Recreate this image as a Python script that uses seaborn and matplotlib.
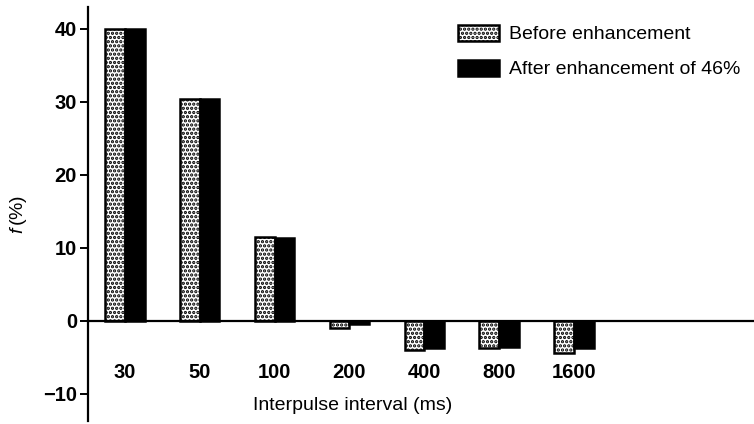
import matplotlib
matplotlib.use("Agg")
import matplotlib.pyplot as plt
from matplotlib.patches import Patch
import seaborn as sns
import pandas as pd

intervals = ["30", "50", "100", "200", "400", "800", "1600"]
before = [40.0, 30.4, 11.5, -1.0, -4.0, -3.7, -4.4]
after = [40.0, 30.4, 11.3, -0.4, -3.7, -3.5, -3.7]
series_names = ["Before enhancement", "After enhancement of 46%"]
y_ticks = [-10, 0, 10, 20, 30, 40]

df = pd.DataFrame({
    "interval": intervals * 2,
    "condition": [series_names[0]] * len(intervals) + [series_names[1]] * len(intervals),
    "value": before + after,
})

sns.set_style("ticks")
plt.rcParams["font.family"] = ["Liberation Sans", "DejaVu Sans"]
plt.rcParams["mathtext.fontset"] = "custom"
plt.rcParams["mathtext.it"] = "Liberation Sans:italic"
plt.rcParams["hatch.linewidth"] = 1.6
for key in ["text.color", "axes.labelcolor", "xtick.color", "ytick.color", "axes.edgecolor"]:
    plt.rcParams[key] = "black"

fig = plt.figure(figsize=(7.54, 4.24), dpi=100)
ax = fig.add_axes([88 / 754, 3 / 424, 1 - 88 / 754, 414 / 424])

sns.barplot(data=df, x="interval", y="value", hue="condition", order=intervals,
            hue_order=series_names, palette=["white", "black"], edgecolor="black",
            linewidth=1.8, width=0.53, gap=0, errorbar=None, legend=False, ax=ax,
            saturation=1)

for p in ax.containers[0]:
    p.set_hatch("....")

ax.set_xlim(-0.49, 8.40)
ax.set_ylim(-13.7, 43.0)
ax.set_yticks(y_ticks)
ax.set_yticklabels(["\u221210", "0", "10", "20", "30", "40"])

for s in ["top", "right"]:
    ax.spines[s].set_visible(False)
ax.spines["bottom"].set_position(("data", 0))
ax.spines["bottom"].set_linewidth(1.6)
ax.spines["left"].set_linewidth(1.6)

ax.tick_params(axis="y", direction="out", length=6, width=1.4, labelsize=14.5, pad=2)
ax.tick_params(axis="x", length=0, labelsize=14.5, pad=30)
for lbl in ax.get_xticklabels() + ax.get_yticklabels():
    lbl.set_fontweight("bold")

ax.set_xlabel("Interpulse interval (ms)", fontsize=14)
ax.xaxis.set_label_coords(0.398, 0.057)
ax.set_ylabel(r"$f\,$(%)", fontsize=14)
ax.yaxis.set_label_coords(-0.088, 0.5)

handles = [Patch(facecolor="white", edgecolor="black", hatch="....", linewidth=1.8),
           Patch(facecolor="black", edgecolor="black", linewidth=1.8)]
fig.legend(handles, series_names, loc="upper left", bbox_to_anchor=(458 / 754, 1 - 25 / 424),
           frameon=False, fontsize=14, handlelength=2.1, handleheight=0.85,
           labelspacing=0.85, handletextpad=0.5, borderpad=0, borderaxespad=0)

fig.savefig("out.png", dpi=100)
